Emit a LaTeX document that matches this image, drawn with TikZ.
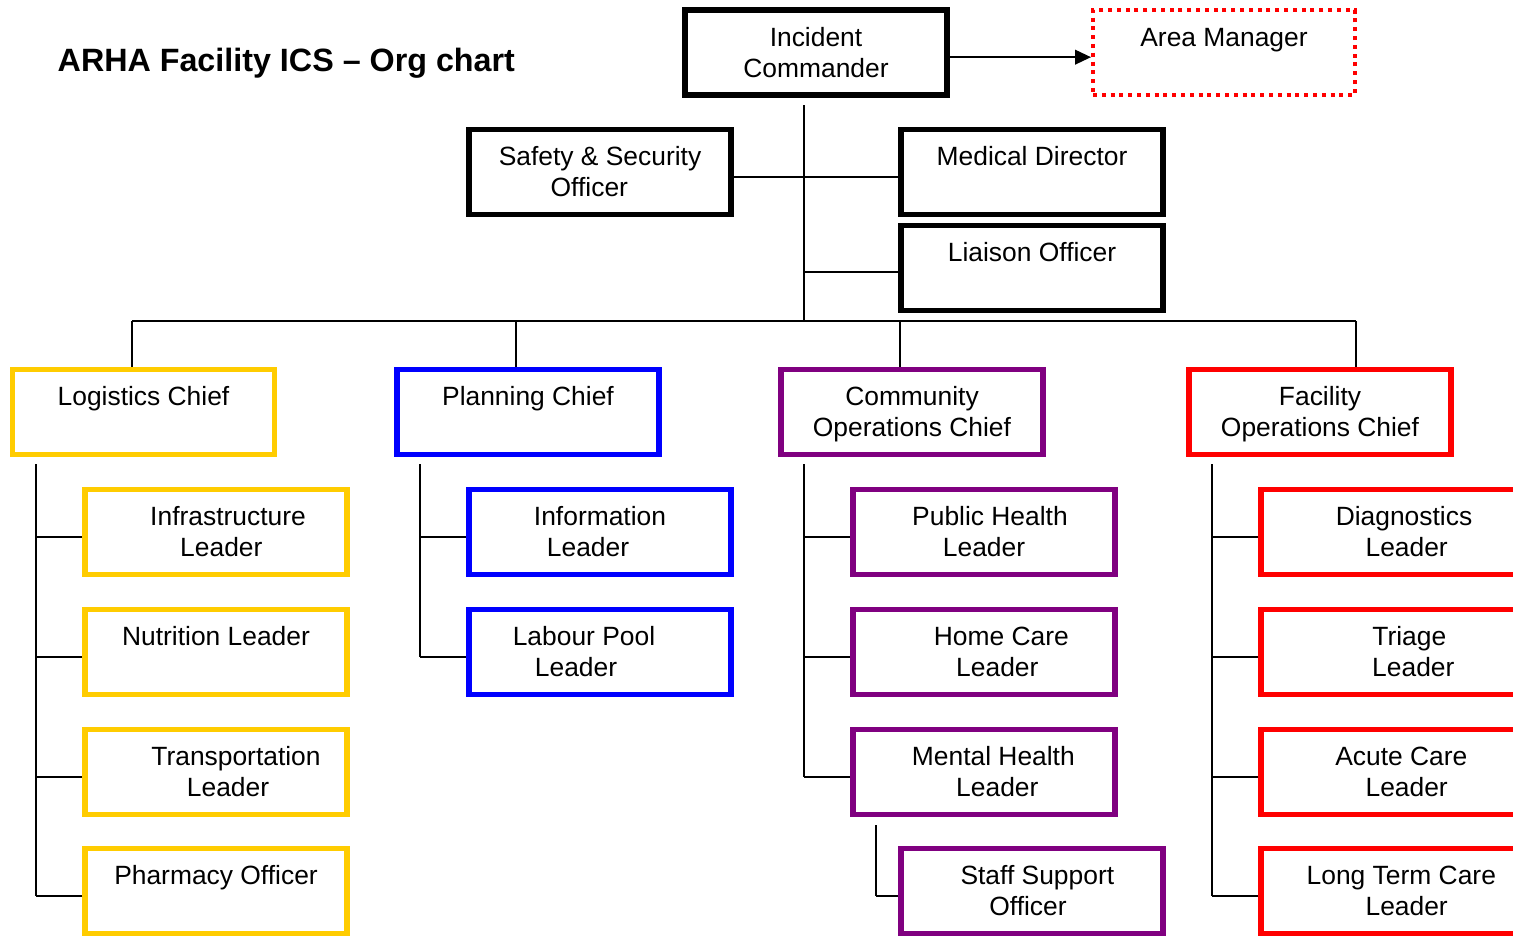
\documentclass[tikz,border=0pt]{standalone}
\usepackage{fontspec}
\setmainfont{Liberation Sans}
\usetikzlibrary{arrows.meta}
\definecolor{logyellow}{HTML}{FFCC00}
\definecolor{planblue}{HTML}{0000FF}
\definecolor{commpurple}{HTML}{800080}
\definecolor{facred}{HTML}{FF0000}
\newcommand{\twolines}[2]{\rule{0pt}{20.5pt}#1\\\strut#2}
\begin{document}
\begin{tikzpicture}[x=0.75pt,y=-0.75pt,
    every node/.style={font=\fontsize{19.8}{23.25}\selectfont},
    orgbox/.style={draw=#1,line width=4.2pt,minimum width=196.5pt,
      minimum height=63.5pt,inner sep=0pt,align=center},
    cmdbox/.style={orgbox=black},
    link/.style={line width=1.4pt}]
  \useasboundingbox (0,0) rectangle (1513,936);

  % Title
  \node[anchor=west,font=\bfseries\fontsize{24.2}{28}\selectfont] (title) at (53,63) {ARHA Facility ICS -- Org chart};

  % Command staff
  \node[cmdbox] (ic) at (816,52.5) {\twolines{Incident}{Commander}};
  \node[orgbox=facred,line width=3pt,dash pattern=on 3pt off 3.6pt] (area) at (1224,52.5) {\twolines{Area Manager}{}};
  \node[cmdbox] (safety) at (600,172) {\twolines{Safety \& Security}{\hspace*{-16pt}Officer}};
  \node[cmdbox] (meddir) at (1032,172) {\twolines{Medical Director}{}};
  \node[cmdbox] (liaison) at (1032,268) {\twolines{Liaison Officer}{}};

  % Section chiefs
  \node[orgbox=logyellow] (logistics) at (143.5,412) {\twolines{Logistics Chief}{}};
  \node[orgbox=planblue] (planning) at (528,412) {\twolines{Planning Chief}{}};
  \node[orgbox=commpurple] (community) at (912,412) {\twolines{Community}{Operations Chief}};
  \node[orgbox=facred] (facility) at (1320,412) {\twolines{Facility}{Operations Chief}};

  % Logistics
  \node[orgbox=logyellow] (infra) at (216,532) {\twolines{\hspace*{18pt}Infrastructure}{\hspace*{8pt}Leader}};
  \node[orgbox=logyellow] (nutrition) at (216,652) {\twolines{Nutrition Leader}{}};
  \node[orgbox=logyellow] (transport) at (216,772) {\twolines{\hspace*{30pt}Transportation}{\hspace*{18pt}Leader}};
  \node[orgbox=logyellow] (pharmacy) at (216,891) {\twolines{Pharmacy Officer}{}};

  % Planning
  \node[orgbox=planblue] (info) at (600,532) {\twolines{Information}{\hspace*{-18pt}Leader}};
  \node[orgbox=planblue] (labour) at (600,652) {\twolines{\hspace*{-24pt}Labour Pool}{\hspace*{-36pt}Leader}};

  % Community operations
  \node[orgbox=commpurple] (pubhealth) at (984,532) {\twolines{\hspace*{9pt}Public Health}{Leader}};
  \node[orgbox=commpurple] (homecare) at (984,652) {\twolines{\hspace*{26pt}Home Care}{\hspace*{20pt}Leader}};
  \node[orgbox=commpurple] (mental) at (984,772) {\twolines{\hspace*{14pt}Mental Health}{\hspace*{20pt}Leader}};
  \node[orgbox=commpurple] (staff) at (1032,891) {\twolines{\hspace*{8pt}Staff Support}{\hspace*{-6pt}Officer}};

  % Facility operations
  \node[orgbox=facred] (diag) at (1392,532) {\twolines{\hspace*{18pt}Diagnostics}{\hspace*{22pt}Leader}};
  \node[orgbox=facred] (triage) at (1392,652) {\twolines{\hspace*{26pt}Triage}{\hspace*{32pt}Leader}};
  \node[orgbox=facred] (acute) at (1392,772) {\twolines{\hspace*{14pt}Acute Care}{\hspace*{22pt}Leader}};
  \node[orgbox=facred] (longterm) at (1392,891) {\twolines{\hspace*{14pt}Long Term Care}{\hspace*{22pt}Leader}};

  % Junction points
  \coordinate (icdrop) at (804,105);
  \coordinate (bus) at (804,321);
  \coordinate (busL) at (132,321);
  \coordinate (busP) at (516,321);
  \coordinate (busC) at (900,321);
  \coordinate (busF) at (1356,321);
  \coordinate (logtop) at (36,464);
  \coordinate (plantop) at (420,464);
  \coordinate (commtop) at (804,464);
  \coordinate (stafftop) at (876,825);
  \coordinate (factop) at (1212,464);

  % Command links
  \draw[link,-{Triangle[length=12pt,width=11pt]}] ([yshift=-3.5pt]ic.east) -- ([yshift=-3.5pt]area.west);
  \draw[link] (icdrop) -- (bus);
  \draw[link] ([yshift=-3.75pt]safety.east) -- ([yshift=-3.75pt]meddir.west);
  \draw[link] ([yshift=-3pt]liaison.west) -- ([yshift=-3pt]liaison.west -| icdrop);
  \draw[link] (busL) -- (busF);
  \foreach \b/\c in {busL/logistics,busP/planning,busC/community,busF/facility}
    \draw[link] (\b) -- (\b |- \c.north);

  % Section links
  \foreach \t/\last/\kids in {logtop/pharmacy/{infra,nutrition,transport,pharmacy},
      plantop/labour/{info,labour},
      commtop/mental/{pubhealth,homecare,mental},
      stafftop/staff/{staff},
      factop/longterm/{diag,triage,acute,longterm}}{
    \draw[link] (\t) -- ([yshift=-4pt]\t |- \last.west);
    \foreach \k in \kids
      \draw[link] ([yshift=-4pt]\k.west) -- ([yshift=-4pt]\k.west -| \t);
  }
\end{tikzpicture}
\end{document}
